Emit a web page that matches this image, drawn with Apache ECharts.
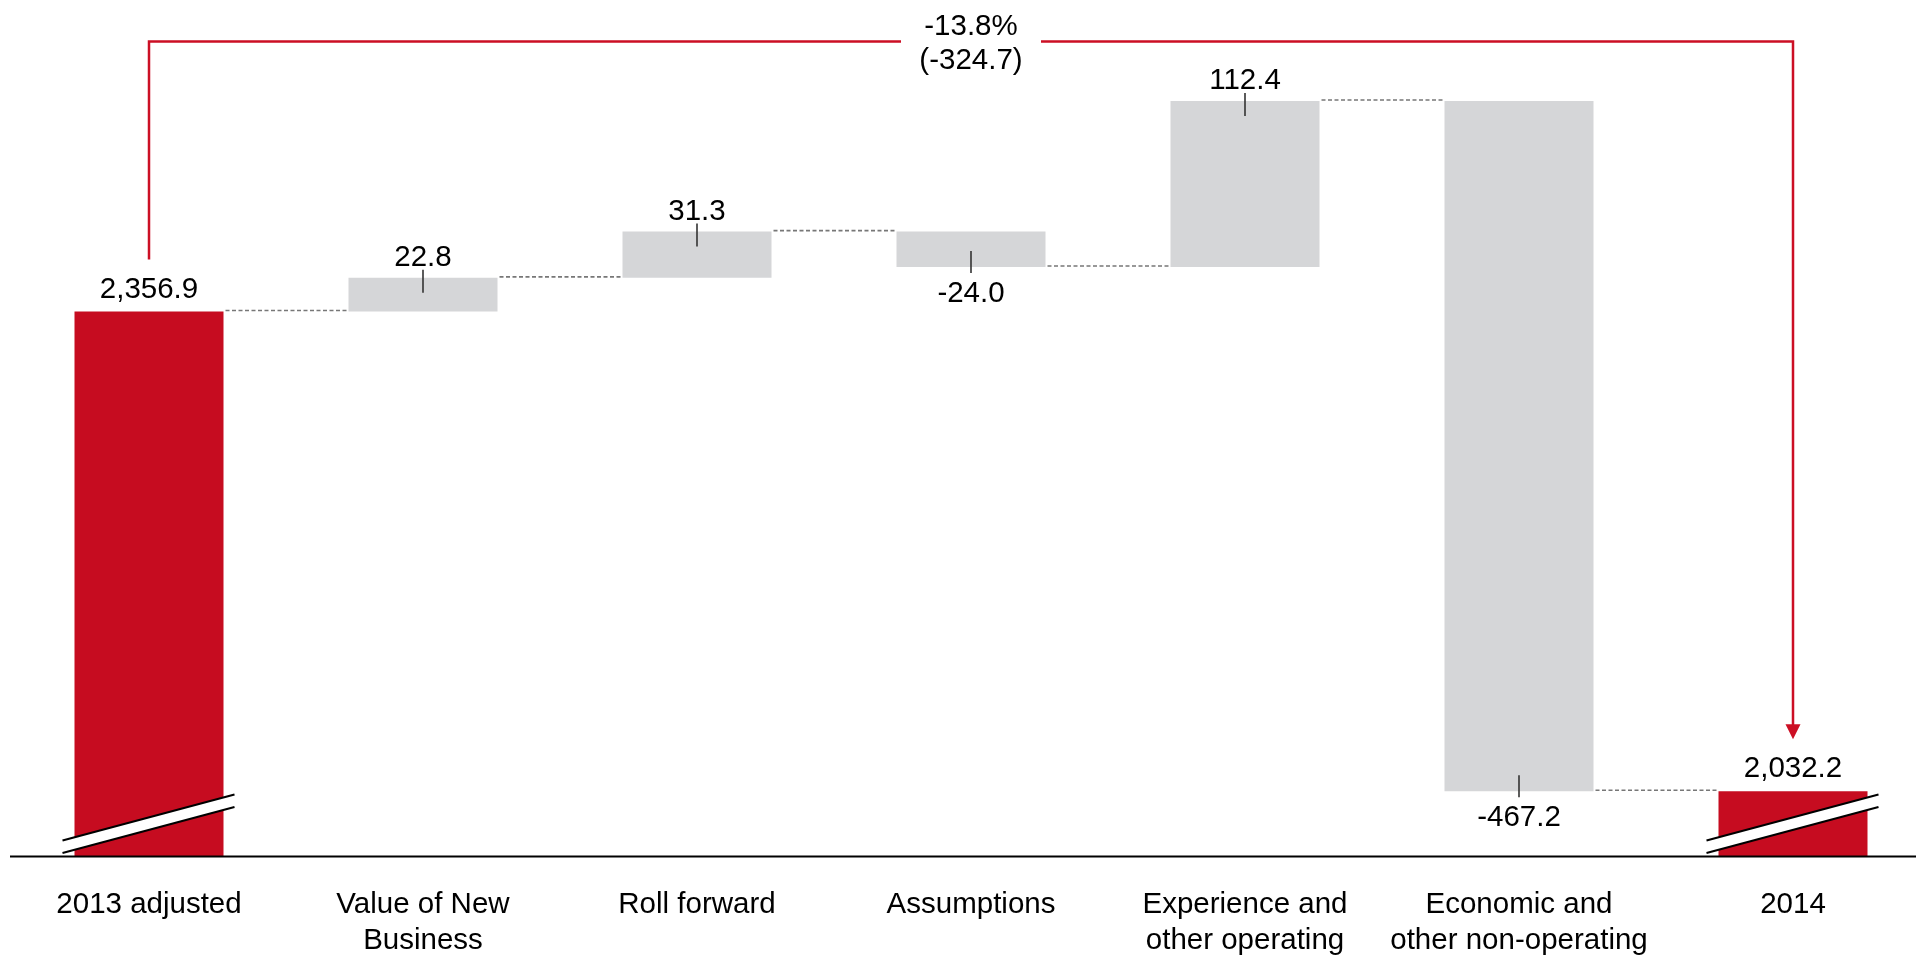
<!DOCTYPE html>
<html>
<head>
<meta charset="utf-8">
<title>Embedded value movement 2013 – 2014</title>
<script src="https://cdn.jsdelivr.net/npm/echarts@6/dist/echarts.min.js"></script>
<style>
  html, body { margin: 0; padding: 0; background: #ffffff; }
  #chart { width: 1916px; height: 959px; }
</style>
</head>
<body>
<div id="chart"></div>
<script>
// Movement categories along the x axis
const categories = [
  '2013 adjusted',
  'Value of New\nBusiness',
  'Roll forward',
  'Assumptions',
  'Experience and\nother operating',
  'Economic and\nother non-operating',
  '2014'
];

// Opening and closing totals
const openingValue = 2356.9;
const closingValue = 2032.2;

// Step changes between the two totals
const changes = [22.8, 31.3, -24.0, 112.4, -467.2];

// Broken value axis: bars start at this floor
const axisFloor = 1988;
const axisCeil = 2560;

const RED = '#C60C20';
const GREY = '#D5D6D8';
const FONT = "'Liberation Sans', Arial, Helvetica, sans-serif";
const FONT_SIZE = 29.5;
const BAR_WIDTH = 149;

// Running totals -> lower/upper edge of each bar
const lows = [], highs = [], kinds = [], labelValues = [];
lows.push(axisFloor); highs.push(openingValue); kinds.push('total'); labelValues.push(openingValue);
let running = openingValue;
changes.forEach(c => {
  const next = +(running + c).toFixed(1);
  lows.push(Math.min(running, next));
  highs.push(Math.max(running, next));
  kinds.push(c >= 0 ? 'up' : 'down');
  labelValues.push(c);
  running = next;
});
lows.push(axisFloor); highs.push(closingValue); kinds.push('total'); labelValues.push(closingValue);

// Level at which each bar hands over to the next one
const levels = [openingValue];
{
  let r = openingValue;
  changes.forEach(c => { r = +(r + c).toFixed(1); levels.push(r); });
  levels.push(closingValue);
}

const fmt = v => v.toLocaleString('en-US', { minimumFractionDigits: 1, maximumFractionDigits: 1 });

const diff = +(closingValue - openingValue).toFixed(1);
const pct = (diff / openingValue * 100).toFixed(1) + '%';

const helperData = lows.slice();
const visibleData = highs.map((h, i) => {
  const k = kinds[i];
  const item = {
    value: +(h - lows[i]).toFixed(1),
    itemStyle: { color: k === 'total' ? RED : GREY }
  };
  if (k === 'total') item.label = { position: 'top', distance: 7 };
  else if (k === 'up') item.label = { position: 'top', distance: 5 };
  else item.label = { position: 'bottom', distance: 12 };
  return item;
});

const chart = echarts.init(document.getElementById('chart'), null, { renderer: 'canvas' });

// Ticks on change bars, dashed connectors and axis-break marks
function renderOverlay(params, api) {
  const i = api.value(0);
  const kind = kinds[i];
  const children = [];
  const half = BAR_WIDTH / 2;
  const top = api.coord([i, highs[i]]);
  const cx = top[0];

  if (kind === 'up') {
    children.push({ type: 'line', shape: { x1: cx, y1: top[1] - 8, x2: cx, y2: top[1] + 15 },
      style: { stroke: '#333', lineWidth: 1.6 } });
  } else if (kind === 'down') {
    const bot = api.coord([i, lows[i]]);
    children.push({ type: 'line', shape: { x1: cx, y1: bot[1] - 16, x2: cx, y2: bot[1] + 6 },
      style: { stroke: '#333', lineWidth: 1.6 } });
  }

  if (i < categories.length - 1) {
    const p = api.coord([i, levels[i]]);
    const q = api.coord([i + 1, levels[i]]);
    children.push({ type: 'line', shape: { x1: p[0] + half + 2, y1: p[1] - 1, x2: q[0] - half - 2, y2: q[1] - 1 },
      style: { stroke: '#777777', lineWidth: 1.6, lineDash: [4, 2.5] } });
  }

  if (kind === 'total') {
    const base = api.coord([i, axisFloor])[1];
    const xl = cx - half - 12, xr = cx + half + 11;
    const yl = base - 3.5, yr = base - 49.5, gap = 12.5;
    children.push({ type: 'polygon', shape: { points: [[xl, yl], [xr, yr], [xr, yr - gap], [xl, yl - gap]] },
      style: { fill: '#ffffff' } });
    children.push({ type: 'line', shape: { x1: xl, y1: yl, x2: xr, y2: yr }, style: { stroke: '#000', lineWidth: 2 } });
    children.push({ type: 'line', shape: { x1: xl, y1: yl - gap, x2: xr, y2: yr - gap }, style: { stroke: '#000', lineWidth: 2 } });
  }
  return { type: 'group', children };
}

// Baseline plus the red bracket showing the overall change between the two totals
function renderBracket(params, api) {
  const a = api.coord([api.value(0), openingValue]);
  const b = api.coord([api.value(1), closingValue]);
  const baseY = api.coord([0, axisFloor])[1];
  const yTop = params.coordSys.y + 30;
  const yStart = a[1] - 52;
  const tipY = b[1] - 52;
  const arrowH = 15, arrowW = 15;
  const mid = (a[0] + b[0]) / 2;
  const gapHalf = 70;
  const stroke = { stroke: '#CC0F24', lineWidth: 2.5, fill: null, lineJoin: 'miter' };
  return {
    type: 'group',
    children: [
      { type: 'line', shape: { x1: 10, y1: baseY, x2: api.getWidth(), y2: baseY }, style: { stroke: '#000', lineWidth: 2 } },
      { type: 'polyline', shape: { points: [[a[0], yStart], [a[0], yTop], [mid - gapHalf, yTop]] }, style: stroke },
      { type: 'polyline', shape: { points: [[mid + gapHalf, yTop], [b[0], yTop], [b[0], tipY - arrowH + 1]] }, style: stroke },
      { type: 'polygon', shape: { points: [[b[0] - arrowW / 2, tipY - arrowH], [b[0] + arrowW / 2, tipY - arrowH], [b[0], tipY]] },
        style: { fill: '#CC0F24' } },
      { type: 'text', style: { text: pct + '\n(' + fmt(diff) + ')', x: mid, y: yTop + 2.5, align: 'center', verticalAlign: 'middle',
        fontSize: FONT_SIZE, fontFamily: FONT, lineHeight: 34, fill: '#000' } }
    ]
  };
}

chart.setOption({
  animation: false,
  backgroundColor: '#ffffff',
  grid: { left: 149, right: 123, top: 11.5, bottom: 97.5, containLabel: false },
  xAxis: {
    type: 'category',
    data: categories,
    boundaryGap: false,
    axisTick: { show: false },
    axisLine: { show: false },
    axisLabel: { interval: 0, color: '#000', fontSize: FONT_SIZE, fontFamily: FONT, margin: 30.5, lineHeight: 36 },
    splitLine: { show: false }
  },
  yAxis: {
    type: 'value',
    min: axisFloor,
    max: axisCeil,
    show: false,
    splitLine: { show: false }
  },
  series: [
    {
      name: 'base',
      type: 'bar',
      stack: 'wf',
      barWidth: BAR_WIDTH,
      clip: false,
      itemStyle: { color: 'transparent' },
      emphasis: { disabled: true },
      silent: true,
      data: helperData
    },
    {
      name: 'movement',
      type: 'bar',
      stack: 'wf',
      barWidth: BAR_WIDTH,
      clip: false,
      label: {
        show: true,
        color: '#000',
        fontSize: FONT_SIZE,
        fontFamily: FONT,
        formatter: p => fmt(labelValues[p.dataIndex])
      },
      data: visibleData
    },
    {
      name: 'overlay',
      type: 'custom',
      clip: false,
      silent: true,
      z: 5,
      renderItem: renderOverlay,
      data: categories.map((c, i) => [i])
    },
    {
      name: 'bracket',
      type: 'custom',
      clip: false,
      silent: true,
      z: 6,
      renderItem: renderBracket,
      encode: { x: [0, 1] },
      data: [[0, categories.length - 1]]
    }
  ]
});
</script>
</body>
</html>
